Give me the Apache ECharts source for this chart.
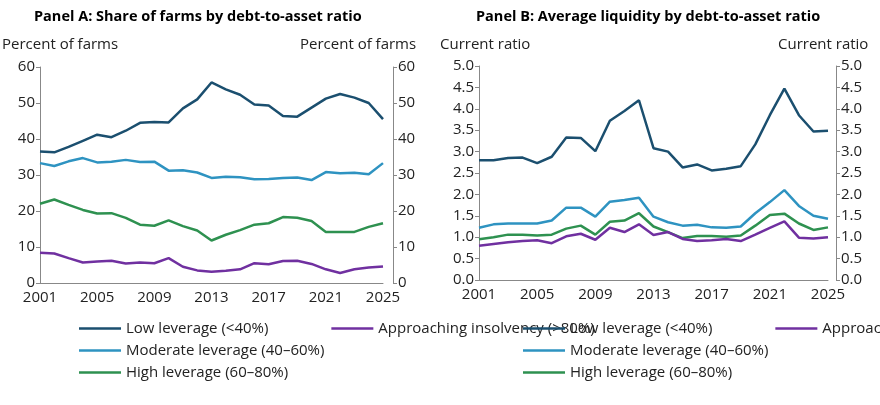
<!DOCTYPE html>
<html>
<head>
<meta charset="utf-8">
<script src="https://cdn.jsdelivr.net/npm/echarts@6/dist/echarts.min.js"></script>
<style>html,body{margin:0;padding:0;background:#fff}#c{width:880px;height:405px}</style>
</head>
<body>
<div id="c"></div>
<script>
var years = [];
for (var y = 2001; y <= 2025; y++) years.push(String(y));

var names = ['Low leverage (<40%)', 'Moderate leverage (40\u201360%)', 'High leverage (60\u201380%)', 'Approaching insolvency (>80%)'];
var colors = ['#1b4f6f', '#2e93c1', '#2e9150', '#7030a0'];

// Panel A: percent of farms
var shareLow = [36.5,36.3,37.8,39.5,41.2,40.5,42.3,44.5,44.7,44.6,48.5,51,55.7,53.8,52.3,49.6,49.3,46.4,46.2,48.7,51.2,52.5,51.5,50,45.5];
var shareMod = [33.3,32.5,33.8,34.7,33.5,33.7,34.2,33.6,33.7,31.2,31.3,30.7,29.2,29.5,29.4,28.8,28.9,29.2,29.3,28.6,30.8,30.5,30.6,30.2,33.3];
var shareHigh = [22,23.2,21.7,20.3,19.3,19.4,18.1,16.2,15.9,17.4,15.8,14.6,11.8,13.4,14.7,16.2,16.6,18.3,18.1,17.2,14.2,14.2,14.2,15.6,16.6];
var shareIns = [8.4,8.2,6.9,5.7,6,6.2,5.4,5.7,5.5,6.9,4.5,3.5,3.1,3.4,3.8,5.5,5.2,6.1,6.2,5.3,3.8,2.8,3.8,4.3,4.6];

// Panel B: current ratio
var liqLow = [2.8,2.8,2.85,2.86,2.73,2.88,3.33,3.32,3.01,3.72,3.95,4.2,3.08,3.0,2.63,2.7,2.56,2.6,2.66,3.17,3.85,4.47,3.85,3.47,3.49];
var liqMod = [1.22,1.3,1.32,1.32,1.32,1.39,1.69,1.69,1.48,1.83,1.87,1.92,1.48,1.35,1.27,1.29,1.23,1.22,1.25,1.56,1.82,2.1,1.73,1.5,1.43];
var liqHigh = [0.95,1.0,1.06,1.06,1.04,1.06,1.2,1.27,1.06,1.36,1.39,1.56,1.25,1.12,0.98,1.03,1.03,1.01,1.04,1.27,1.52,1.55,1.32,1.17,1.23];
var liqIns = [0.8,0.84,0.88,0.91,0.93,0.86,1.02,1.08,0.94,1.22,1.12,1.3,1.05,1.12,0.96,0.91,0.93,0.96,0.91,1.06,1.22,1.37,0.99,0.97,1.0];

var font = 'Open Sans';
var txt = {color: '#222', fontFamily: font, fontSize: 15};
var axLine = {show: true, lineStyle: {color: '#888'}};

function xAx(g) {
    return {type: 'category', gridIndex: g, data: years, boundaryGap: false,
        axisLine: axLine, axisTick: {show: false},
        axisLabel: Object.assign({interval: 3, margin: 7}, txt)};
}
function yAx(g, max, step, right, off, dec) {
    return {type: 'value', gridIndex: g, min: 0, max: max, interval: step,
        position: right ? 'right' : 'left', offset: off || 0,
        splitLine: {show: false}, axisLine: axLine,
        axisTick: {show: true, length: 4, lineStyle: {color: '#888'}},
        axisLabel: Object.assign({margin: 5, formatter: function (v) { return dec ? v.toFixed(1) : v; }}, txt)};
}
function ser(i, g, d) {
    return {name: names[i], type: 'line', xAxisIndex: g, yAxisIndex: g * 2, data: d,
        showSymbol: false, lineStyle: {width: 2.5, color: colors[i]}, itemStyle: {color: colors[i]}};
}
function leg(left) {
    return {orient: 'vertical', left: left, top: 316, itemGap: 7, itemWidth: 42, itemHeight: 15,
        icon: 'path://M0,6h42v2.5h-42z', data: names, textStyle: txt, selectedMode: false};
}

var chart = echarts.init(document.getElementById('c'));
chart.setOption({
    animation: false,
    grid: [
        {left: 40, right: 497, top: 67, bottom: 122},
        {left: 479, right: 52, top: 66, bottom: 125}
    ],
    xAxis: [xAx(0), xAx(1)],
    yAxis: [yAx(0, 60, 10, false), yAx(0, 60, 10, true, 10), yAx(1, 5, 0.5, false, 0, true), yAx(1, 5, 0.5, true, 8, true)],
    legend: [leg(74), leg(518)],
    series: [
        ser(0, 0, shareLow), ser(1, 0, shareMod), ser(2, 0, shareHigh), ser(3, 0, shareIns),
        ser(0, 1, liqLow), ser(1, 1, liqMod), ser(2, 1, liqHigh), ser(3, 1, liqIns)
    ],
    graphic: [
        {type: 'text', left: 34, top: 9, style: {text: 'Panel A: Share of farms by debt-to-asset ratio', font: 'bold 14.5px "Open Sans"', fill: '#000'}},
        {type: 'text', left: 476, top: 9, style: {text: 'Panel B: Average liquidity by debt-to-asset ratio', font: 'bold 14.5px "Open Sans"', fill: '#000'}},
        {type: 'text', left: 2, top: 37, style: {text: 'Percent of farms', font: '15px "Open Sans"', fill: '#222'}},
        {type: 'text', left: 300, top: 37, style: {text: 'Percent of farms', font: '15px "Open Sans"', fill: '#222'}},
        {type: 'text', left: 440, top: 37, style: {text: 'Current ratio', font: '15px "Open Sans"', fill: '#222'}},
        {type: 'text', left: 778, top: 37, style: {text: 'Current ratio', font: '15px "Open Sans"', fill: '#222'}}
    ]
});
</script>
</body>
</html>
